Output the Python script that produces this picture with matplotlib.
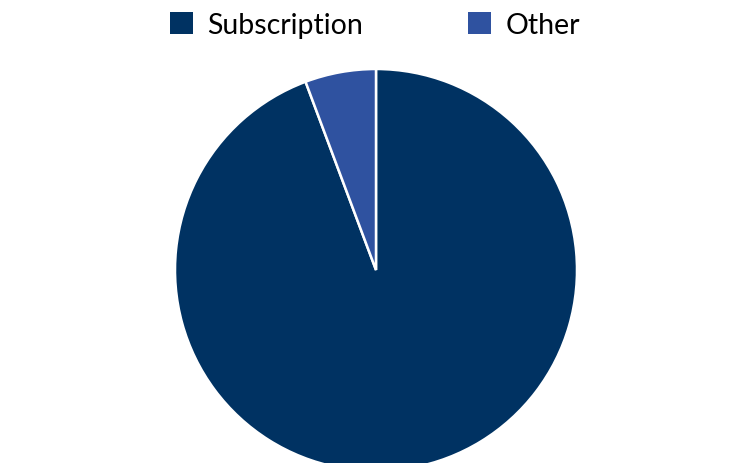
import matplotlib
matplotlib.use("Agg")
import matplotlib.pyplot as plt
from matplotlib.patches import Patch

categories = ["Subscription", "Other"]
shares = [94.3, 5.7]
colors = ["#003262", "#2F52A0"]

plt.rcParams["font.family"] = ["Lato", "DejaVu Sans"]

fig = plt.figure(figsize=(7.36, 4.64), dpi=100)
ax = fig.add_axes([175 / 736, -8 / 464, 402 / 736, 402 / 464])
ax.pie(shares, colors=colors, startangle=90, counterclock=False, radius=1,
       wedgeprops=dict(edgecolor="white", linewidth=1.8))
ax.set_xlim(-1, 1)
ax.set_ylim(-1, 1)
ax.set_aspect("equal")
ax.axis("off")

handles = [Patch(facecolor=c, edgecolor="none") for c in colors]
fig.legend(handles, categories, loc="center", bbox_to_anchor=(375 / 736, 1 - 26 / 464),
           ncol=2, frameon=False, fontsize=20.5, handlelength=0.8, handleheight=0.8,
           handletextpad=0.5, columnspacing=3.7)

fig.savefig("out.png", dpi=100)
